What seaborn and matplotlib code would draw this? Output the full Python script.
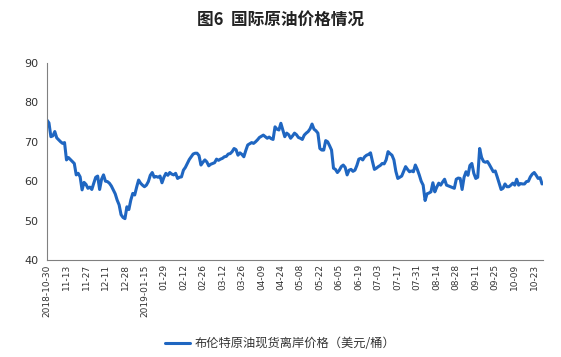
import matplotlib
matplotlib.use("Agg")
import matplotlib.pyplot as plt
import seaborn as sns
import pandas as pd
import numpy as np

# Brent spot FOB price (USD/bbl), one value per trading day from 2018-10-30
brent = [
    75.5, 74.8, 71.3, 71.5, 72.6, 71.0, 70.5, 70.0, 69.6, 69.8,
    65.4, 66.0, 65.5, 65.0, 64.5, 61.6, 62.0, 61.1, 57.8, 59.7,
    59.2, 58.2, 58.5, 57.9, 59.5, 61.0, 61.3, 57.9, 60.5, 61.6,
    60.0, 59.9, 59.5, 58.8, 57.8, 56.8, 55.2, 54.0, 51.5, 50.8,
    50.5, 53.5, 52.8, 55.2, 56.9, 56.5, 58.5, 60.3, 59.5, 59.0,
    58.6, 59.0, 59.9, 61.5, 62.2, 61.0, 61.2, 61.0, 61.3, 59.6,
    61.0, 62.0, 61.5, 62.2, 61.8, 61.6, 62.0, 60.7, 61.0, 61.1,
    62.8, 63.5, 64.5, 65.5, 66.2, 66.9, 67.1, 67.1, 66.5, 64.1,
    64.8, 65.4, 64.9, 63.9, 64.3, 64.5, 64.7, 65.6, 65.3, 65.6,
    65.8, 66.2, 66.3, 66.9, 67.0, 67.5, 68.3, 68.0, 66.6, 67.2,
    66.8, 66.2, 67.8, 69.2, 69.5, 69.8, 69.6, 70.0, 70.5, 71.1,
    71.4, 71.7, 71.3, 70.9, 71.2, 70.8, 70.6, 73.8, 73.2, 73.0,
    74.7, 73.0, 71.3, 72.2, 71.8, 70.9, 71.5, 72.2, 71.8, 71.1,
    70.9, 70.6, 71.7, 72.2, 72.6, 73.3, 74.5, 73.2, 72.8, 72.2,
    68.3, 67.9, 67.9, 70.3, 70.0, 69.0, 67.9, 63.3, 63.0, 62.2,
    62.8, 63.7, 64.1, 63.5, 61.6, 62.8, 63.0, 62.5, 62.8, 64.0,
    65.6, 65.8, 65.4, 66.2, 66.6, 66.8, 67.2, 65.0, 63.0, 63.3,
    63.7, 64.0, 64.5, 64.4, 65.4, 67.5, 67.0, 66.6, 65.4, 62.5,
    60.7, 61.0, 61.3, 62.5, 63.7, 63.0, 62.4, 62.6, 62.4, 64.1,
    63.0, 61.6, 60.0, 59.0, 55.1, 56.8, 57.0, 57.3, 59.6, 57.3,
    58.5, 59.5, 59.0, 59.8, 60.5, 59.0, 58.8, 58.6, 58.4, 58.2,
    60.5, 60.8, 60.7, 57.9, 61.0, 62.4, 61.5, 64.0, 64.5, 62.0,
    60.7, 61.0, 68.3, 66.0, 65.0, 64.8, 65.0, 64.2, 63.3, 62.4,
    62.6, 61.1, 59.5, 57.9, 58.2, 59.3, 58.6, 58.6, 59.0, 59.5,
    59.0, 60.5, 59.0, 59.4, 59.3, 59.3, 59.9, 60.0, 61.1, 61.8,
    62.2, 61.5, 60.7, 60.9, 59.3,
]

# tick labels, one every 10 trading days
tick_labels = [
    "2018-10-30", "11-13", "11-27", "12-11", "12-28", "2019-01-15", "01-29",
    "02-12", "02-26", "03-12", "03-26", "04-09", "04-24", "05-08", "05-22",
    "06-05", "06-19", "07-03", "07-17", "07-31", "08-14", "08-28", "09-11",
    "09-25", "10-09", "10-23",
]
y_ticks = [40, 50, 60, 70, 80, 90]

title = "图6  国际原油价格情况"
series_name = "布伦特原油现货离岸价格（美元/桶）"

sns.set_theme(style="white")
plt.rcParams["font.family"] = ["Noto Sans CJK SC", "DejaVu Sans"]

df = pd.DataFrame({"day": np.arange(len(brent)), "price": brent, "series": series_name})

fig = plt.figure(figsize=(5.61, 3.57), dpi=100)
ax = fig.add_axes([47 / 561, 1 - 260 / 357, (543 - 47) / 561, (260 - 63) / 357])

sns.lineplot(data=df, x="day", y="price", hue="series", palette=["#1F66C1"],
             linewidth=2.2, ax=ax, legend=True)

ax.set_xlim(0, len(brent) - 0.5)
ax.set_ylim(40, 90)
ax.set_yticks(y_ticks)
ax.set_yticklabels([str(v) for v in y_ticks], fontsize=8, family="DejaVu Sans")
tick_pos = np.arange(0, len(tick_labels) * 10, 10)
ax.set_xticks(tick_pos)
ax.set_xticklabels(tick_labels, rotation=90, fontsize=6.5, family="DejaVu Sans")
ax.set_xlabel("")
ax.set_ylabel("")

for s in ["top", "right"]:
    ax.spines[s].set_visible(False)
for s in ["left", "bottom"]:
    ax.spines[s].set_color("#808080")
    ax.spines[s].set_linewidth(0.8)
ax.tick_params(axis="both", direction="in", length=3, width=0.7, color="#808080",
               labelcolor="#333333", pad=6)
ax.tick_params(axis="x", pad=3)

leg = ax.legend(loc="upper center", bbox_to_anchor=(0.47, -0.335), frameon=False,
                fontsize=8.8, handlelength=2.1, handletextpad=0.35)
for t in leg.get_texts():
    t.set_color("#333333")

fig.text(0.5, 1 - 20 / 357, title, ha="center", va="center", fontsize=12,
         fontweight="bold", color="#222222")

fig.savefig("out.png", dpi=100, facecolor="white")
